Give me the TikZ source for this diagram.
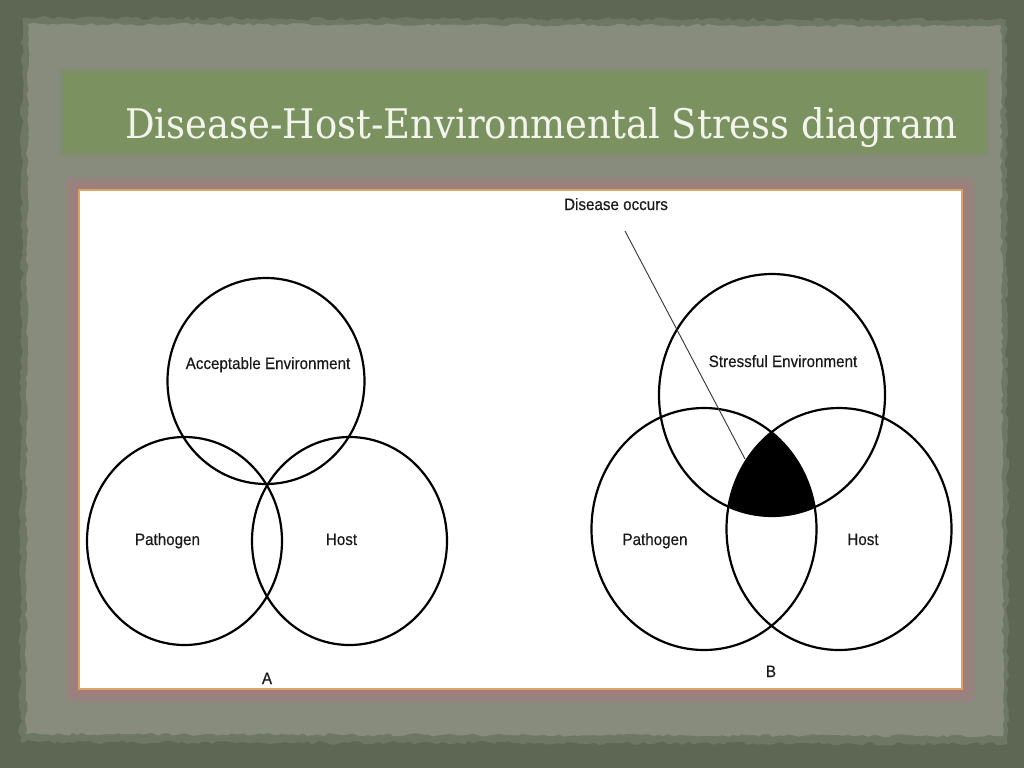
\documentclass[tikz,border=0pt]{standalone}
\usepackage{fontspec}
\usepackage{graphicx}
\setmainfont{Liberation Sans}
\newfontfamily\titlefont{DejaVu Serif}
\newfontfamily\lblfont[FakeStretch=0.92,FakeBold=0.4]{Liberation Sans}
\usetikzlibrary{decorations.pathmorphing,shapes.geometric}
\definecolor{outerbg}{HTML}{5E6753}
\definecolor{panelbg}{HTML}{878C7D}
\definecolor{titlebar}{HTML}{7B9160}
\definecolor{titletext}{HTML}{F2F5EC}
\definecolor{glow}{HTML}{A87E80}
\definecolor{edgec}{HTML}{D9A466}
\begin{document}
\begin{tikzpicture}[x=1pt,y=-1pt,
  venn/.style={ellipse, draw=black, line width=2.2pt, inner sep=0pt, outer sep=0pt},
  lbl/.style={font=\lblfont\fontsize{16.5}{16.5}\selectfont, text=black!90, inner sep=0pt, anchor=base},
  leader/.style={draw=black!80, line width=0.9pt},
]
\fill[outerbg] (0,0) rectangle (1024,768);
\useasboundingbox (0,0) rectangle (1024,768);
\pgfmathsetseed{7}
\fill[outerbg!60!panelbg, decorate, decoration={random steps, segment length=5pt, amplitude=2pt}]
  (22,18) -- (1006,20) -- (1008,744) -- (20,742) -- cycle;
\fill[panelbg, decorate, decoration={random steps, segment length=5pt, amplitude=1.5pt}]
  (28,24) -- (1001,26) -- (1003,736) -- (26,734) -- cycle;
% title bar
\foreach \i in {0,...,3}
  \fill[titlebar, opacity=0.18] ({63-1.5*\i},{72-1.5*\i}) rectangle ({985+1.5*\i},{152+1.5*\i});
\node[fill=titlebar, minimum width=922pt, minimum height=80pt, inner sep=0pt] (bar) at (524,112) {};
\node[text=titletext, anchor=base west, inner sep=0pt] (title) at (125,138)
  {\resizebox{832pt}{31pt}{\titlefont Disease-Host-Environmental Stress diagram}};
% glow around canvas
\foreach \i in {0,...,9}
  \fill[glow, opacity=0.17, rounded corners=5pt]
    ({78-1.5*\i},{189-1.5*\i}) rectangle ({963+1.5*\i},{690+1.5*\i});
\node[fill=white, draw=edgec, line width=1.2pt, minimum width=883pt, minimum height=499pt, inner sep=0pt] (canvas) at (520.5,439.5) {};
% black intersection
\begin{scope}
  \clip (772,395) ellipse [x radius=113pt, y radius=121pt];
  \clip (704,529) ellipse [x radius=112.5pt, y radius=121pt];
  \fill[black] (839,529) ellipse [x radius=112.5pt, y radius=121pt];
\end{scope}
% diagram A
\node[venn, minimum width=197pt, minimum height=206pt] (envA) at (266,381) {};
\node[venn, minimum width=195pt, minimum height=208pt] (pathA) at (184.5,541) {};
\node[venn, minimum width=195pt, minimum height=208pt] (hostA) at (349.5,541) {};
\node[lbl] (envAl) at (268,369) {Acceptable Environment};
\node[lbl] (pathAl) at (167.5,545) {Pathogen};
\node[lbl] (hostAl) at (341.5,545) {Host};
\node[lbl] (capA) at (267,684) {A};
% diagram B
\node[venn, minimum width=226pt, minimum height=242pt] (envB) at (772,395) {};
\node[venn, minimum width=225pt, minimum height=242pt] (pathB) at (704,529) {};
\node[venn, minimum width=225pt, minimum height=242pt] (hostB) at (839,529) {};
\node[lbl] (envBl) at (783,367) {Stressful Environment};
\node[lbl] (pathBl) at (655,545) {Pathogen};
\node[lbl] (hostBl) at (863,545) {Host};
\node[lbl] (capB) at (771,677) {B};
\node[lbl] (occurs) at (616,210) {Disease occurs};
\coordinate (ls) at (625,231);
\coordinate (le) at (745,459);
\draw[leader] (ls) -- (le);
\end{tikzpicture}
\end{document}
